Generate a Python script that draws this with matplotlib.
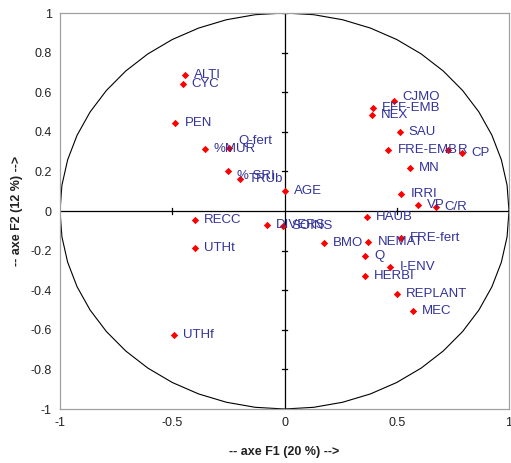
import numpy as np
import matplotlib
matplotlib.use("Agg")
import matplotlib.pyplot as plt

plt.rcParams['font.family'] = ['Liberation Sans', 'DejaVu Sans']

labels = ["ALTI", "CYC", "PEN", "%MUR", "Q-fert", "% SRI", "TRUb", "AGE",
          "CJMO", "EFF-EMB", "NEX", "SAU", "FRE-EMB", "R", "CP", "MN",
          "IRRI", "VP", "C/R", "HAUB", "RECC", "DIVERS", "SOINS", "UTHt",
          "UTHf", "BMO", "NEMAT", "FRE-fert", "Q", "I-ENV", "HERBI",
          "REPLANT", "MEC"]
f1 = [-0.445, -0.454, -0.486, -0.356, -0.245, -0.252, -0.198, 0.000,
      0.486, 0.395, 0.389, 0.514, 0.463, 0.730, 0.790, 0.557,
      0.521, 0.594, 0.674, 0.368, -0.399, -0.079, -0.008, -0.399,
      -0.494, 0.174, 0.374, 0.517, 0.359, 0.472, 0.359,
      0.500, 0.572]
f2 = [0.687, 0.641, 0.444, 0.313, 0.320, 0.200, 0.164, 0.103,
      0.557, 0.522, 0.483, 0.399, 0.307, 0.306, 0.293, 0.216,
      0.087, 0.030, 0.020, -0.029, -0.047, -0.072, -0.076, -0.185,
      -0.626, -0.160, -0.158, -0.138, -0.226, -0.281, -0.328,
      -0.421, -0.503]

xticks = [-1, -0.5, 0, 0.5, 1]
yticks = [-1, -0.8, -0.6, -0.4, -0.2, 0, 0.2, 0.4, 0.6, 0.8, 1]

# label vertical nudges (points), as placed in the original chart
label_dy = {"Q-fert": 4.5, "% SRI": -3.5, "CJMO": 3.0}

fig = plt.figure(figsize=(5.11, 4.63), dpi=100)
ax = fig.add_axes([60/511, 54/463, 449/511, 396/463])
ax.set_xlim(-1, 1)
ax.set_ylim(-1, 1)

# circle (coarse polygon)
th = np.linspace(0, 2*np.pi, 49)
ax.plot(np.cos(th), np.sin(th), color='black', lw=0.8, zorder=1)

# cross axes
ax.axhline(0, color='black', lw=0.9, zorder=1)
ax.axvline(0, color='black', lw=0.9, zorder=1)
for t in [-0.5, 0.5]:
    ax.plot([t, t], [-0.015, 0.015], color='black', lw=0.9, zorder=1)
for t in yticks:
    if t != 0:
        ax.plot([-0.01, 0.01], [t, t], color='black', lw=0.9, zorder=1)

ax.scatter(f1, f2, marker='D', s=14, color='#FF0000', zorder=3, linewidths=0)
for lab, x, y in zip(labels, f1, f2):
    ax.annotate(lab, (x, y), xytext=(6.5, label_dy.get(lab, 0)), textcoords='offset points',
                va='center', ha='left', fontsize=9.5, color='#333399', zorder=4)

ax.set_xticks(xticks)
ax.set_yticks(yticks)
ax.set_xticklabels(['-1', '-0.5', '0', '0.5', '1'])
ax.set_yticklabels(['-1', '-0.8', '-0.6', '-0.4', '-0.2', '0', '0.2', '0.4', '0.6', '0.8', '1'])
ax.tick_params(length=0, labelsize=9, colors='#222222', pad=6)
for s in ax.spines.values():
    s.set_color('#A0A0A0')
    s.set_linewidth(0.9)

ax.set_xlabel('-- axe F1 (20 %) -->', fontsize=9, fontweight='bold', color='#222222', labelpad=12)
ax.set_ylabel('-- axe F2 (12 %) -->', fontsize=9, fontweight='bold', color='#222222', labelpad=5)

fig.savefig('out.png', dpi=100)
